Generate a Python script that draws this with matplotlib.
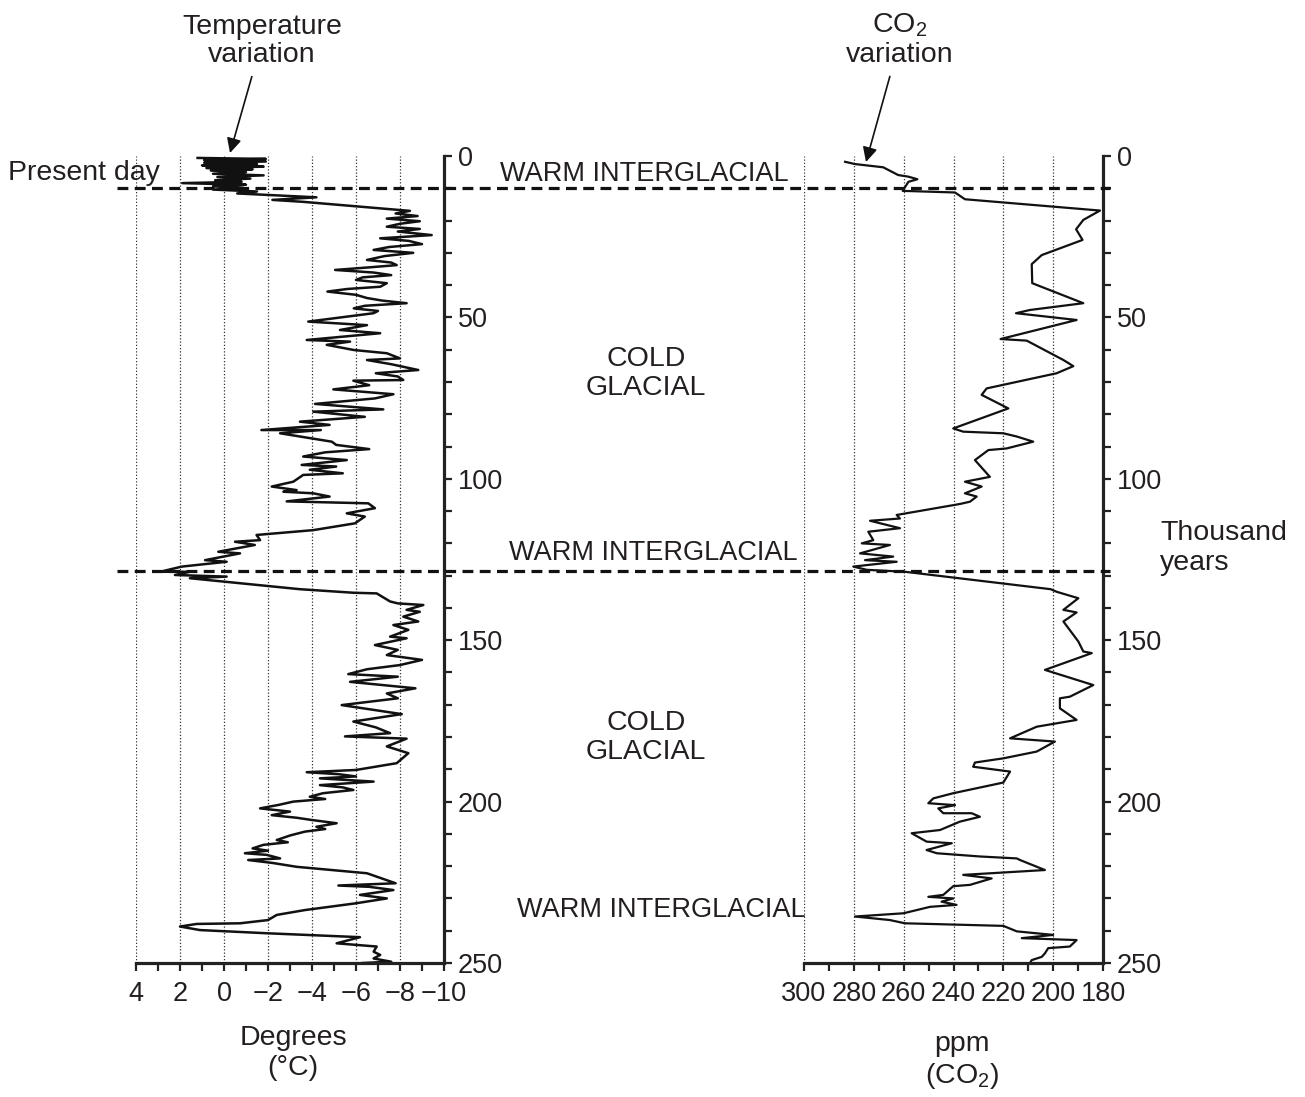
import matplotlib
matplotlib.use("Agg")
import matplotlib.pyplot as plt
from matplotlib.lines import Line2D
from matplotlib.ticker import MultipleLocator
import matplotlib.transforms as mtransforms

plt.rcParams['font.family'] = ['Liberation Sans', 'DejaVu Sans']
plt.rcParams['mathtext.fontset'] = 'custom'
plt.rcParams['mathtext.rm'] = 'Liberation Sans'
plt.rcParams['mathtext.it'] = 'Liberation Sans:italic'

# ---------------- data: (age in thousand years, temperature °C) ----------------
temp_holocene = [(0.6, 1.2), (0.9, -1.9), (1.3, 0.9), (1.7, -1.9), (2.1, 0.9), (2.5, -1.5),
                 (2.9, 1.0), (3.3, -1.8), (3.7, 0.8), (4.1, -1.3), (4.5, 0.6), (5.0, -1.0),
                 (5.5, 0.5), (6.0, -1.8), (6.5, 0.3), (7.0, -1.2), (7.5, 0.4), (8.0, -0.8),
                 (8.4, 1.9), (8.9, -1.0), (9.4, 0.5), (9.9, -0.9), (10.4, 0.5), (11.0, -1.5),
                 (11.6, -0.6), (12.8, -4.2), (13.6, -2.2), (14.2, -3.6)]
temp_glacial1 = [(17.0, -8.45), (17.8, -7.8), (18.6, -8.8), (19.4, -7.4), (20.2, -8.9),
                 (21.0, -8.0), (21.9, -7.4), (22.6, -8.9), (23.4, -7.9), (24.5, -9.44),
                 (25.5, -7.1), (26.3, -8.4), (27.3, -9.0), (28.2, -7.5), (29.1, -6.8),
                 (30.0, -8.6), (31.0, -7.3), (32.2, -6.5), (33.0, -7.6), (33.8, -7.85),
                 (34.5, -6.6), (35.3, -5.05), (36.1, -6.8), (36.9, -7.6), (37.6, -6.3),
                 (38.4, -6.0), (39.4, -7.4), (40.5, -7.1), (41.2, -5.6), (42.0, -4.7),
                 (43.0, -6.0), (44.0, -6.5), (44.8, -7.2), (45.6, -8.3), (46.4, -6.4),
                 (47.2, -5.9), (48.0, -7.0), (48.7, -6.8), (51.3, -3.83), (52.4, -6.5),
                 (53.9, -5.27), (54.9, -7.1), (57.0, -3.76), (57.5, -5.73), (58.5, -4.67),
                 (60.1, -5.9), (61.1, -7.4), (62.7, -8.0), (63.2, -6.5), (64.5, -7.6),
                 (66.3, -8.83), (67.3, -6.9), (68.3, -7.9), (69.4, -8.15), (69.6, -5.88),
                 (71.0, -6.6), (72.3, -4.97), (73.8, -7.7), (75.1, -6.86), (76.8, -4.14),
                 (77.6, -5.6), (78.5, -7.24), (79.2, -4.06), (80.8, -6.4), (82.3, -3.45),
                 (83.3, -4.8), (84.9, -1.7), (84.9, -4.4), (85.9, -2.55), (87.5, -3.99),
                 (88.5, -4.9), (89.5, -5.1), (90.8, -6.6), (91.8, -4.6), (93.1, -3.6),
                 (94.2, -5.58), (95.7, -3.53), (96.2, -5.1), (97.2, -3.9), (98.3, -5.4),
                 (98.8, -3.6), (100.9, -3.15), (102.4, -2.17), (103.5, -3.3), (104.0, -2.7),
                 (104.5, -4.06), (105.5, -4.8), (107.0, -2.85), (107.6, -6.56),
                 (109.1, -6.86), (110.7, -5.58), (111.7, -6.4), (113.8, -5.95)]
temp_interglacial = [(115.9, -4.06), (117.4, -1.48), (119.0, -1.64), (119.5, -0.5),
                     (120.5, -1.4), (122.6, 0.26), (123.1, -0.73), (125.2, 0.86),
                     (125.7, -0.12), (127.2, 1.92), (128.8, 2.9), (128.8, 1.55),
                     (129.8, 2.23), (130.3, -0.12), (130.8, 1.55), (134.2, -3.45),
                     (135.3, -5.88), (135.5, -6.94)]
temp_glacial2 = [(138.0, -7.55), (138.6, -7.9), (139.1, -9.06), (140.6, -8.3), (141.2, -8.9),
                 (142.7, -8.15), (144.2, -8.83), (145.3, -7.7), (146.8, -8.38), (148.9, -7.55),
                 (149.4, -8.3), (151.5, -6.86), (153.0, -7.9), (154.6, -7.4), (156.1, -9.0),
                 (157.7, -8.0), (159.0, -6.5), (160.5, -5.65), (161.3, -7.9), (162.9, -5.73),
                 (164.9, -8.7), (166.5, -7.4), (168.0, -7.9), (170.1, -5.35), (172.9, -8.08),
                 (175.2, -5.88), (177.0, -6.9), (178.8, -7.55), (179.8, -5.5), (180.5, -8.3),
                 (182.9, -7.4), (185.0, -8.38), (188.1, -7.85), (190.2, -6.0), (190.9, -3.76),
                 (191.5, -5.2), (192.2, -6.0), (192.8, -4.36), (193.8, -6.8), (194.9, -4.36),
                 (195.6, -5.4), (196.4, -5.88), (197.4, -4.5), (198.5, -3.9), (199.2, -4.6),
                 (200.0, -3.15), (201.0, -2.5), (202.1, -1.64), (203.1, -3.0), (204.2, -2.17),
                 (205.0, -3.3), (205.7, -3.99), (206.7, -5.12), (207.8, -4.2), (208.5, -4.6),
                 (209.3, -3.68), (210.5, -3.0), (211.9, -2.4), (212.6, -2.9), (213.4, -1.79),
                 (214.5, -1.3), (215.2, -2.0), (216.0, -0.95), (216.5, -1.94), (217.6, -2.55),
                 (218.1, -1.1), (219.0, -2.2), (220.2, -3.3)]
temp_stage7 = [(222.2, -6.5), (225.3, -7.8), (226.0, -5.2), (226.4, -6.6), (227.4, -7.7),
               (228.9, -6.18), (230.0, -7.4), (231.5, -6.0), (233.6, -3.68), (235.1, -2.4),
               (236.7, -2.0), (237.7, -0.73), (237.9, 1.24), (238.7, 2.0), (239.8, 1.09),
               (240.8, -2.0), (242.0, -6.18), (243.9, -5.12), (244.9, -6.94), (246.5, -6.8),
               (247.5, -7.1), (248.6, -6.8), (249.6, -7.6), (250.0, -6.3)]

# (age in thousand years, CO2 ppm)
co2_recent = [(1.8, 283.5), (2.5, 279.5), (3.5, 268.2), (5.9, 262.2), (6.4, 258.1), (7.2, 254.5),
              (8.0, 258.1), (10.8, 260.4), (11.3, 239.4), (13.4, 235.4)]
co2_glacial1 = [(16.9, 181.2), (19.8, 187.9), (22.7, 190.8), (26.0, 188.2), (30.7, 204.6),
                (33.5, 208.6), (39.4, 208.4), (45.6, 187.9), (47.7, 209.3), (48.7, 214.9),
                (50.8, 190.6), (56.7, 221.1), (57.2, 210.6), (63.2, 195.9), (65.1, 191.9),
                (67.3, 198.6), (72.0, 226.7), (74.0, 228.7), (78.2, 218.0), (84.4, 240.1),
                (85.4, 236.1), (85.9, 220.0), (86.9, 214.6), (88.5, 208.0), (90.6, 218.7),
                (91.1, 226.0), (94.2, 231.4), (99.4, 225.4), (100.9, 235.4), (102.4, 228.7),
                (104.5, 235.4), (105.5, 230.7), (107.1, 233.4), (107.8, 237.4)]
co2_interglacial = [(111.2, 262.8), (112.3, 261.5), (113.0, 273.5), (115.3, 261.5), (116.4, 274.2),
                    (119.0, 272.2), (120.0, 276.8), (120.5, 265.5), (123.1, 277.5), (124.1, 264.2),
                    (125.2, 275.5), (125.7, 262.8), (127.2, 280.2), (128.2, 274.8), (128.8, 259.5)]
co2_glacial2 = [(134.2, 201.0), (135.0, 198.6), (137.0, 189.9), (140.6, 195.9), (141.4, 190.6),
                (144.2, 195.9), (150.4, 189.9), (153.5, 187.9), (154.0, 184.5), (159.2, 203.3),
                (163.9, 183.9), (167.5, 193.3), (168.0, 197.3), (171.1, 197.3), (174.7, 190.6),
                (176.8, 206.6), (180.4, 217.3), (181.4, 199.3), (184.5, 206.6), (186.6, 220.0),
                (187.9, 231.4), (189.2, 232.1), (190.7, 217.3), (194.1, 220.0), (197.4, 240.1),
                (199.0, 248.1), (200.5, 250.1), (201.1, 239.4), (202.1, 246.1), (203.6, 244.1),
                (203.6, 232.7), (204.7, 229.4), (206.2, 237.4), (208.8, 245.4), (209.8, 256.8),
                (212.4, 250.8), (212.9, 240.7), (215.0, 250.8), (216.0, 246.7), (217.0, 229.4),
                (217.6, 214.6), (218.1, 213.3)]
co2_stage7 = [(221.2, 203.3), (222.7, 236.1), (223.8, 224.7), (225.8, 233.4), (226.2, 240.1),
              (228.9, 244.1), (229.5, 250.1), (230.0, 240.1), (231.0, 244.8), (232.0, 238.8),
              (232.6, 249.4), (234.6, 260.1), (235.6, 279.5), (236.7, 265.5), (237.7, 259.5),
              (238.5, 220.0), (240.2, 214.6), (241.3, 200.0), (242.3, 212.6), (242.9, 190.6),
              (244.9, 193.3), (245.4, 202.0), (247.0, 203.3), (248.1, 204.6), (249.1, 208.6),
              (250.0, 209.3)]

age_ticks = [0, 50, 100, 150, 200, 250]
temp_ticks = [4, 2, 0, -2, -4, -6, -8, -10]
co2_ticks = [300, 280, 260, 240, 220, 200, 180]
boundary_ages = [10.0, 128.6]   # present day & last interglacial dashed lines

period_labels = ["WARM INTERGLACIAL", "COLD\nGLACIAL", "WARM INTERGLACIAL",
                 "COLD\nGLACIAL", "WARM INTERGLACIAL"]
period_ages = [5.6, 67.5, 123.0, 180.0, 233.5]

temp_pts = temp_holocene + temp_glacial1 + temp_interglacial + temp_glacial2 + temp_stage7
co2_pts = co2_recent + co2_glacial1 + co2_interglacial + co2_glacial2 + co2_stage7
temp_age = [p[0] for p in temp_pts]
temp_val = [p[1] for p in temp_pts]
co2_age = [p[0] for p in co2_pts]
co2_val = [p[1] for p in co2_pts]

# ---------------- figure ----------------
W, H = 1305, 1097
fig = plt.figure(figsize=(W / 100, H / 100), dpi=100)
TXT = '#231f20'

def make_axes(x0, x1):
    ax = fig.add_axes([x0 / W, 1 - 963 / H, (x1 - x0) / W, (963 - 156) / H])
    ax.set_ylim(250, 0)
    for s in ['top', 'left']:
        ax.spines[s].set_visible(False)
    for s in ['right', 'bottom']:
        ax.spines[s].set_linewidth(2.3)
        ax.spines[s].set_color('#222222')
    ax.yaxis.tick_right()
    ax.set_yticks(age_ticks)
    ax.yaxis.set_minor_locator(MultipleLocator(10))
    ax.tick_params(axis='both', which='both', direction='out', width=1.6, length=6,
                   labelsize=19.5, color='#222222', labelcolor=TXT)
    ax.tick_params(axis='y', which='major', pad=4)
    ax.tick_params(axis='x', which='major', pad=7)
    ax.grid(axis='x', which='major', linestyle=(0, (1, 1.6)), linewidth=0.9, color='#333333')
    ax.set_axisbelow(True)
    return ax

ax1 = make_axes(136, 444)
ax1.set_xlim(4, -10)
ax1.set_xticks(temp_ticks)
ax1.set_xticklabels([f"{t}".replace('-', '\u2212') for t in temp_ticks])
ax1.xaxis.set_minor_locator(MultipleLocator(1))
ax1.plot(temp_val, temp_age, color='#111111', lw=1.8)

ax2 = make_axes(804, 1103)
ax2.set_xlim(300, 180)
ax2.set_xticks(co2_ticks)
ax2.xaxis.set_minor_locator(MultipleLocator(10))
ax2.plot(co2_val, co2_age, color='#111111', lw=1.6)

# dashed boundary lines across the figure
blend = mtransforms.blended_transform_factory(fig.transFigure, ax1.transData)
for a in boundary_ages:
    fig.add_artist(Line2D([117 / W, 1110 / W], [a, a], transform=blend, color='#111111',
                          lw=2.3, linestyle=(0, (3.4, 2.0))))

# period labels
label_x = [644, 646, 653, 646, 661]
for lab, a, x in zip(period_labels, period_ages, label_x):
    fs = 19.5 if 'WARM' in lab else 20.5
    fig.text(x / W, a, lab, transform=blend, ha='center', va='center', fontsize=fs,
             color=TXT, linespacing=1.15)

# annotations
fig.text(8 / W, 1 - 173 / H, "Present day", ha='left', va='center', fontsize=20.5, color=TXT)
fig.text(1160 / W, 1 - 548 / H, "Thousand\nyears", ha='left', va='center', fontsize=20.5,
         color=TXT, linespacing=1.15)
fig.text(293 / W, 1 - 1053 / H, "Degrees\n(°C)", ha='center', va='center', fontsize=20.5,
         color=TXT, linespacing=1.2)
fig.text(962 / W, 1 - 1061 / H, "ppm\n(CO$_\\mathregular{2}$)", ha='center', va='center',
         fontsize=20.5, color=TXT, linespacing=1.2)

ax1.annotate("Temperature\nvariation", xy=(230 / W, 1 - 153 / H), xycoords='figure fraction',
             xytext=(262 / W, 1 - 41 / H), textcoords='figure fraction', ha='center', va='center',
             fontsize=20.5, color=TXT, linespacing=1.15,
             arrowprops=dict(arrowstyle='-|>', color='#111111', lw=1.2, mutation_scale=22,
                             shrinkA=4, shrinkB=0))
ax2.annotate("CO$_\\mathregular{2}$\nvariation", xy=(866 / W, 1 - 162 / H), xycoords='figure fraction',
             xytext=(900 / W, 1 - 40 / H), textcoords='figure fraction', ha='center', va='center',
             fontsize=20.5, color=TXT, linespacing=1.15,
             arrowprops=dict(arrowstyle='-|>', color='#111111', lw=1.2, mutation_scale=22,
                             shrinkA=4, shrinkB=0))

fig.savefig("out.png", dpi=100, facecolor='white')
